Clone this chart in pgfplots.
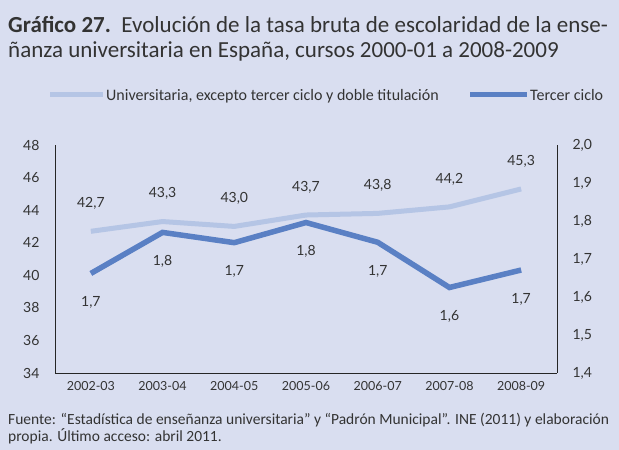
\documentclass[border=0pt]{standalone}
\usepackage{fontspec}
\setmainfont{Lato}
\newfontfamily\tfont{Carlito}
\usepackage{pgfplots}
\pgfplotsset{compat=1.18}
\definecolor{bg}{HTML}{D9DEF0}
\definecolor{lightl}{HTML}{B5C5E5}
\definecolor{darkl}{HTML}{5A80C4}
\definecolor{txt}{HTML}{333333}
\begin{document}
\begin{tikzpicture}
\fill[bg] (0pt,0pt) rectangle (619pt,450pt);
\useasboundingbox (0pt,0pt) rectangle (619pt,450pt);
% title
\node[anchor=base west, inner sep=0, text=txt, font=\tfont\fontsize{23}{27}\selectfont] at (8pt,417pt) {\textbf{Gráfico 27.}\ \ Evolución de la tasa bruta de escolaridad de la ense-};
\node[anchor=base west, inner sep=0, text=txt, font=\tfont\fontsize{23}{27}\selectfont] at (8pt,392pt) {ñanza universitaria en España, cursos 2000-01 a 2008-2009};
% legend
\draw[lightl, line width=5pt] (50pt,355pt) -- (103pt,355pt);
\node[anchor=base west, inner sep=0, text=txt, font=\tfont\fontsize{16}{19}\selectfont] at (106pt,349.5pt) {Universitaria, excepto tercer ciclo y doble titulación};
\draw[darkl, line width=5pt] (470pt,355pt) -- (527pt,355pt);
\node[anchor=base west, inner sep=0, text=txt, font=\tfont\fontsize{16}{19}\selectfont] at (530pt,349.5pt) {Tercer ciclo};
% footer
\node[anchor=base west, inner sep=0, text=txt, font=\tfont\fontsize{15.5}{17}\selectfont] at (8pt,25pt) {Fuente: “Estadística de enseñanza universitaria” y “Padrón Municipal”. INE (2011) y elaboración};
\node[anchor=base west, inner sep=0, text=txt, font=\tfont\fontsize{15.5}{17}\selectfont] at (8pt,8pt) {propia. Último acceso: abril 2011.};

\pgfplotsset{
  common/.style={
    at={(55pt,77pt)}, anchor=south west, scale only axis,
    width=502pt, height=228pt,
    xmin=-0.5, xmax=6.5,
    major tick length=0pt,
    axis line style={-, black!85, line width=0.8pt},
    tick label style={text=txt, font=\fontsize{14}{16}\selectfont},
    /pgf/number format/.cd, use comma, fixed, fixed zerofill, precision=1, assume math mode=true,
  }
}
\begin{axis}[common,
  ymin=34, ymax=48, ytick={34,36,38,40,42,44,46,48},
  yticklabel={\pgfmathprintnumber[precision=0,fixed zerofill=false]{\tick}},
  axis x line*=bottom, axis y line*=left,
  xtick={0,...,6},
  xticklabels={2002-03,2003-04,2004-05,2005-06,2006-07,2007-08,2008-09},
  xticklabel style={font=\fontsize{12.5}{15}\selectfont, yshift=-5pt},
  yticklabel style={xshift=-12pt},
  nodes near coords, point meta=explicit,
  every node near coord/.append style={anchor=center, yshift=28pt, text=txt, font=\fontsize{14}{16}\selectfont},
]
\addplot[lightl, line width=5pt] coordinates {
 (0,42.7) [42.7] (1,43.3) [43.3] (2,43.0) [43.0] (3,43.7) [43.7] (4,43.8) [43.8] (5,44.2) [44.2] (6,45.3) [45.3]
};
\end{axis}
\begin{axis}[common,
  ymin=1.4, ymax=2.0, ytick={1.4,1.5,1.6,1.7,1.8,1.9,2.0},
  axis y line*=right, axis x line=none,
  yticklabel style={xshift=12pt},
  nodes near coords, point meta=explicit,
  every node near coord/.append style={anchor=center, yshift=-29pt, text=txt, font=\fontsize{14}{16}\selectfont},
]
\addplot[darkl, line width=5.5pt] coordinates {
 (0,1.662) [1.7] (1,1.770) [1.8] (2,1.743) [1.7] (3,1.796) [1.8] (4,1.744) [1.7] (5,1.625) [1.6] (6,1.671) [1.7]
};
\end{axis}
\end{tikzpicture}
\end{document}
